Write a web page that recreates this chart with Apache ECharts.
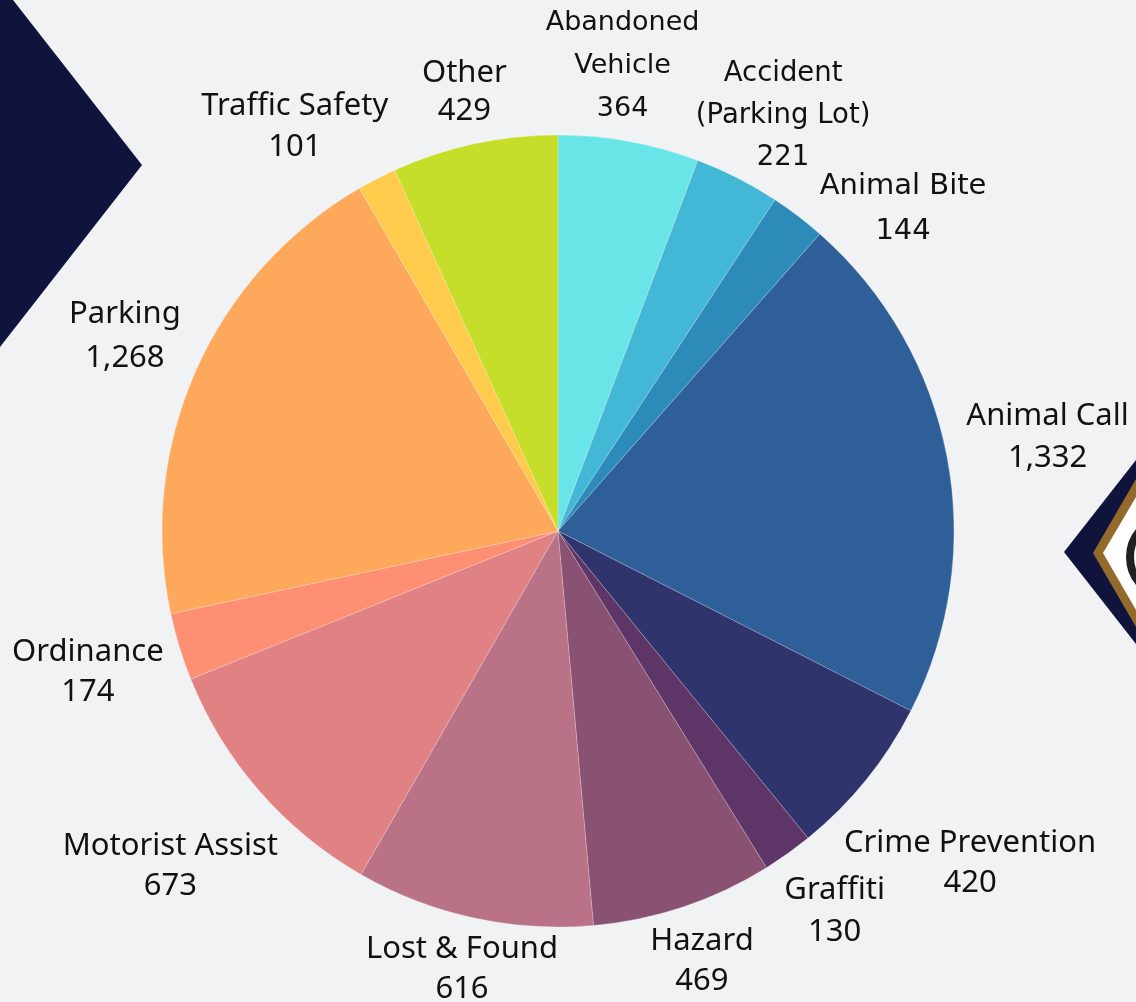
<!DOCTYPE html>
<html>
<head>
<meta charset="utf-8">
<script src="https://cdn.jsdelivr.net/npm/echarts@6/dist/echarts.min.js"></script>
<style>
html,body{margin:0;padding:0;background:#f1f2f4;}
#chart{width:1136px;height:1002px;}
</style>
</head>
<body>
<div id="chart"></div>
<script>
// ---- data ----
var categories = ['Abandoned\nVehicle', 'Accident\n(Parking Lot)', 'Animal Bite', 'Animal Call', 'Crime Prevention',
  'Graffiti', 'Hazard', 'Lost & Found', 'Motorist Assist', 'Ordinance', 'Parking', 'Traffic Safety', 'Other'];
var values = [364, 221, 144, 1332, 420, 130, 469, 616, 673, 174, 1268, 101, 429];

// ---- styles ----
var colors = ['#6ae5e7', '#42b7d6', '#2d8bb9', '#2e5f98', '#30346c', '#5d3566', '#8a5272', '#b97286',
  '#e08184', '#fe8f73', '#fea85b', '#fecb4c', '#c6de29'];
var fonts = ['DejaVu Sans', 'DejaVu Sans', 'DejaVu Sans', 'Noto Sans', 'Noto Sans', 'Noto Sans', 'Noto Sans',
  'Noto Sans', 'Noto Sans', 'Noto Sans', 'Noto Sans', 'Noto Sans', 'Noto Sans'];
var fontSizes = [27, 27.5, 29, 31, 31, 31, 31, 31, 31, 31, 31, 31, 31];
var lineHeights = [43, 42, 45, 42, 40, 42, 40, 40, 40, 40, 44, 41, 38];
// label nudges (px) relative to the radial anchor
var nudgeX = [-21, 9, 56, 21, 41, 0, -7, 6, -28, -14, 3, -45, 7];
var nudgeY = [4, 10, 57, -4, 32, -8, -22, -28, 22, 2, -1, 20, 27];

var chart = echarts.init(document.getElementById('chart'), null, {renderer: 'canvas'});

var seriesData = categories.map(function (c, i) {
  return {
    name: c,
    value: values[i],
    itemStyle: {color: colors[i]},
    label: {fontFamily: fonts[i], fontSize: fontSizes[i], lineHeight: lineHeights[i]}
  };
});

chart.setOption({
  backgroundColor: '#f1f2f4',
  animation: false,
  graphic: [
    {type: 'polygon', z: 0, shape: {points: [[0, 0], [13, 0], [142, 165], [0, 347]]}, style: {fill: '#10143c'}},
    {type: 'polygon', z: 0, shape: {points: [[1064, 552], [1136, 460], [1136, 644]]}, style: {fill: '#10143c'}},
    {type: 'polygon', z: 1, shape: {points: [[1093, 553], [1136, 479], [1136, 627]]}, style: {fill: '#936a2b'}},
    {type: 'polygon', z: 1, shape: {points: [[1103, 553], [1136, 497], [1136, 610]]}, style: {fill: '#ffffff'}},
    {type: 'circle', z: 2, shape: {cx: 1170, cy: 557, r: 40}, style: {fill: '#ffffff', stroke: '#1f1f24', lineWidth: 8}}
  ],
  series: [{
    type: 'pie',
    center: [558, 531],
    radius: 396,
    startAngle: 90,
    clockwise: true,
    avoidLabelOverlap: false,
    silent: true,
    itemStyle: {borderColor: 'rgba(255,255,255,0.35)', borderWidth: 0.6},
    label: {
      show: true,
      position: 'outside',
      color: '#111111',
      distanceToLabelLine: 0,
      formatter: function (p) {
        return p.name + '\n' + p.value.toLocaleString('en-US');
      }
    },
    labelLine: {show: false, length: 81, length2: 0},
    labelLayout: function (p) {
      return {align: 'center', verticalAlign: 'middle', dx: nudgeX[p.dataIndex], dy: nudgeY[p.dataIndex]};
    },
    data: seriesData
  }]
});
</script>
</body>
</html>
